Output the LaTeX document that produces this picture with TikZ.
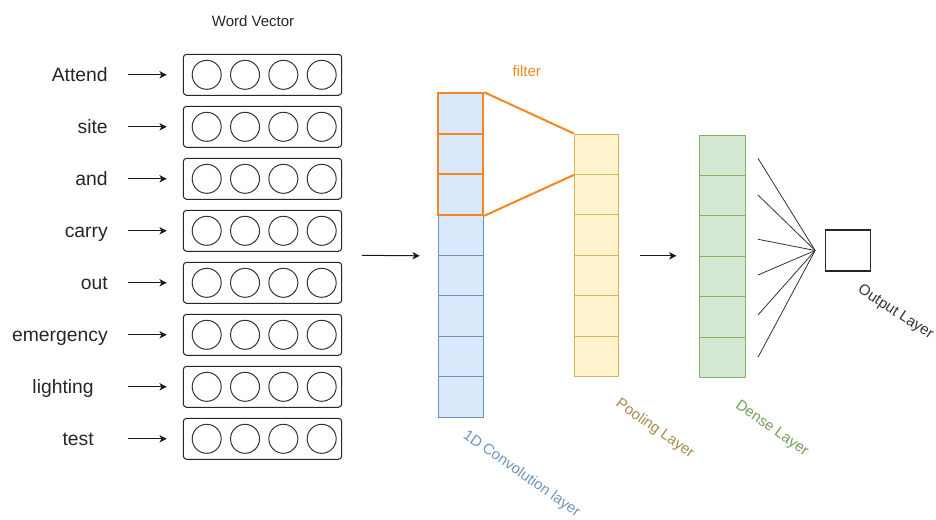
\documentclass[tikz,border=0pt]{standalone}
\usepackage{fontspec}
\setmainfont{Liberation Sans}
\usetikzlibrary{arrows.meta}
\definecolor{convfill}{HTML}{DAE8FC}
\definecolor{convline}{HTML}{6C8EBF}
\definecolor{poolfill}{HTML}{FFF2CC}
\definecolor{poolline}{HTML}{D6B656}
\definecolor{densefill}{HTML}{D5E8D4}
\definecolor{denseline}{HTML}{82B366}
\definecolor{filterc}{HTML}{F5861F}
\definecolor{convtext}{HTML}{7195BA}
\definecolor{pooltext}{HTML}{A98A4C}
\definecolor{densetext}{HTML}{73A05D}
\begin{document}
\begin{tikzpicture}[x=0.75pt,y=-0.75pt,
  wbox/.style={draw=black!85, rounded corners=2.5pt, line width=0.75pt, minimum width=118.8pt, minimum height=30.75pt, inner sep=0pt},
  unit/.style={circle, draw=black!80, line width=0.75pt, minimum size=21.75pt, inner sep=0pt},
  word/.style={anchor=east, font=\fontsize{14.5}{17}\selectfont, text=black!85, inner sep=0pt, text height=10.4pt, text depth=0pt},
  small/.style={font=\fontsize{11.25}{13}\selectfont, inner sep=0pt},
  arr/.style={-{Stealth[length=5.5pt,width=5.5pt,inset=1.5pt]}, line width=0.75pt, draw=black!90},
  convcell/.style={draw=convline, fill=convfill, line width=0.75pt, minimum width=33.75pt, minimum height=30.4pt, inner sep=0pt},
  filtcell/.style={draw=filterc, fill=convfill, line width=1.5pt, minimum width=33.75pt, minimum height=30.4pt, inner sep=0pt},
  poolcell/.style={draw=poolline, fill=poolfill, line width=0.75pt, minimum width=33pt, minimum height=30.34pt, inner sep=0pt},
  densecell/.style={draw=denseline, fill=densefill, line width=0.75pt, minimum width=34.5pt, minimum height=30.34pt, inner sep=0pt},
  filtline/.style={draw=filterc, line width=1.5pt},
  fan/.style={draw=black!80, line width=0.6pt},
  outbox/.style={draw=black!85, line width=1pt, minimum width=33.75pt, minimum height=30.75pt, inner sep=0pt}
]
\useasboundingbox (0,0) rectangle (936,520);

% title
\node[small, text=black!85] (wv) at (253,20.7) {Word Vector};

% word rows
\foreach \w/\xe [count=\i] in {Attend/108,site/108,and/108,carry/108,out/108,emergency/108,lighting/94,test/94}{
  \pgfmathsetmacro{\yy}{22.8+52*\i}
  \node[word] (w\i) at (\xe,\yy) {\w};
  \node[wbox] (b\i) at (262.5,\yy) {};
  \foreach \j in {0,...,3}{
    \node[unit] (u\i\j) at (206.7+38.33*\j,\yy) {};
  }
  \coordinate (a\i) at (128,\yy);
  \draw[arr] (a\i) -- ([xshift=-12pt]b\i.west);
}

% convolution column
\foreach \i in {4,...,8}{
  \node[convcell] (c\i) at (460.8,{93.3+40.5*\i-20.25}) {};
}
\foreach \i in {1,2,3}{
  \node[filtcell] (c\i) at (460.8,{93.3+40.5*\i-20.25}) {};
}

% pooling column
\foreach \i in {1,...,6}{
  \node[poolcell] (p\i) at (596.3,{134+40.45*\i-20.22}) {};
}

% dense column
\foreach \i in {1,...,6}{
  \node[densecell] (d\i) at (722,{135+40.45*\i-20.22}) {};
}

% filter lines
\draw[filtline] (c1.north east) -- (p1.north west);
\draw[filtline] (c3.south east) -- (p1.south west);
\node[small, text=filterc] (filt) at (526.7,70.7) {filter};

% arrows between layers
\coordinate (inp) at (362,255.3);
\draw[arr] (inp) -- ([xshift=-13.5pt]c4.south west);
\draw[arr] ([xshift=15.75pt]p3.south east) -- ([xshift=-16.5pt]p3.south east -| d3.west);

% output
\node[outbox] (out) at (848.3,250.5) {};
\coordinate (hub) at ([xshift=-7.5pt]out.west);
\foreach \yy [count=\i] in {158.3,195,239.3,275,315,357.3}{
  \coordinate (s\i) at (758,\yy);
  \draw[fan] (s\i) -- (hub);
}

% layer labels
\node[small, text=convtext, rotate=-35] (lconv) at (521.5,474) {1D Convolution layer};
\node[small, text=pooltext, rotate=-35] (lpool) at (655,429) {Pooling Layer};
\node[small, text=densetext, rotate=-35] (ldense) at (771.7,429) {Dense Layer};
\node[small, text=black!80, rotate=-33] (lout) at (895.5,312.5) {Output Layer};
\end{tikzpicture}
\end{document}
